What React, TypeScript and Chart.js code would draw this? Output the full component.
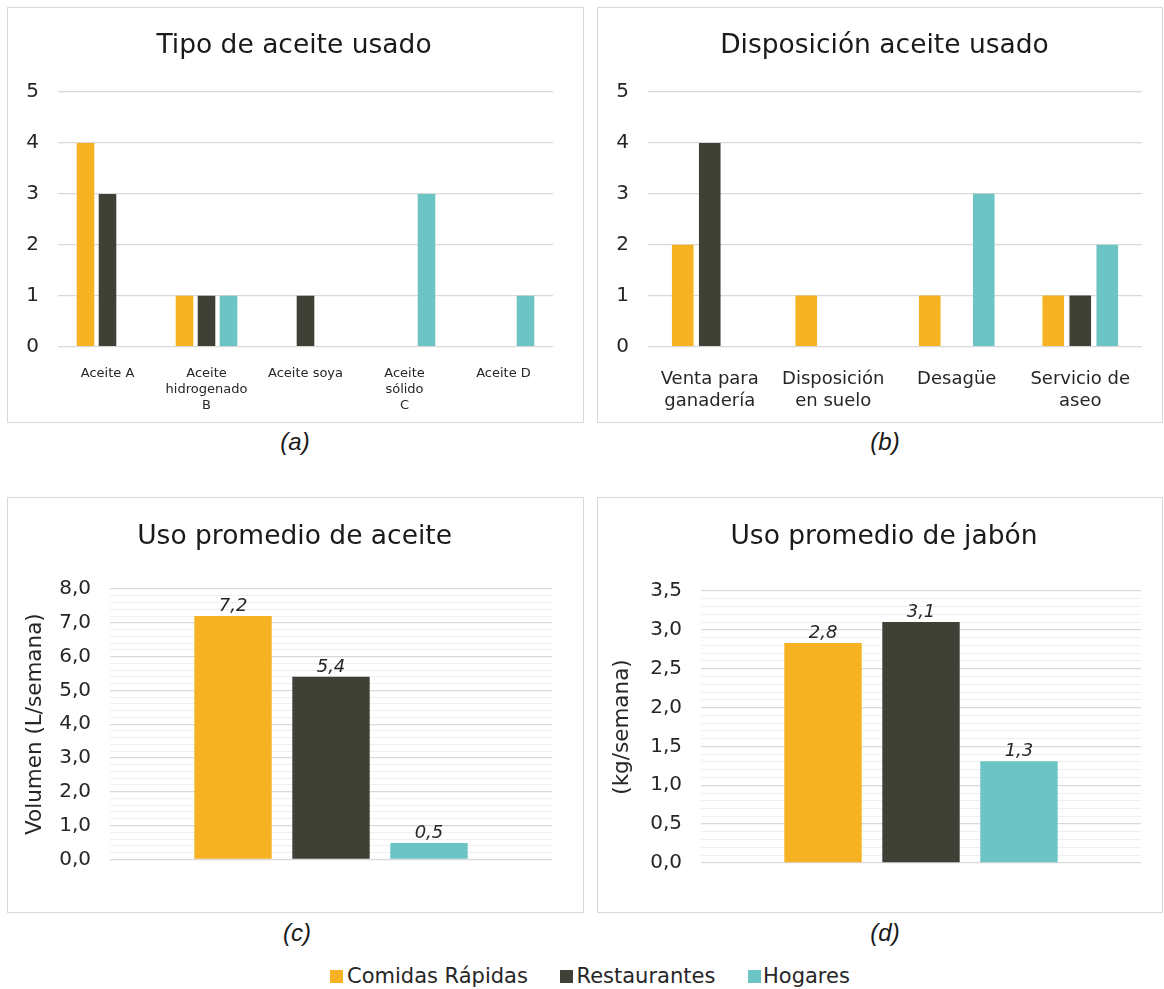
import React, { useEffect, useRef } from "react";
import { Chart, registerables } from "chart.js";

Chart.register(...registerables);

const FONT = "'DejaVu Sans', Verdana, sans-serif";
const TEXT = "#262626";
const GRID_MAJOR = "#d9d9d9";
const GRID_MINOR = "#efefef";

const SERIES = ["Comidas Rápidas", "Restaurantes", "Hogares"];
const COLORS = ["#F6B222", "#3F4136", "#6CC4C5"];

// (a) Tipo de aceite usado
const tipoCategories = [["Aceite A"], ["Aceite", "hidrogenado", "B"], ["Aceite soya"], ["Aceite", "sólido", "C"], ["Aceite D"]];
const tipoComidas = [4, 1, 0, 0, 0];
const tipoRestaurantes = [3, 1, 1, 0, 0];
const tipoHogares = [0, 1, 0, 3, 1];
const tipoTicks = { min: 0, max: 5, step: 1 };

// (b) Disposición aceite usado
const dispCategories = [["Venta para", "ganadería"], ["Disposición", "en suelo"], ["Desagüe"], ["Servicio de", "aseo"]];
const dispComidas = [2, 1, 1, 1];
const dispRestaurantes = [4, 0, 0, 1];
const dispHogares = [0, 0, 3, 2];
const dispTicks = { min: 0, max: 5, step: 1 };

// (c) Uso promedio de aceite
const aceiteCategory = [""];
const aceiteComidas = [7.2];
const aceiteRestaurantes = [5.4];
const aceiteHogares = [0.48];
const aceiteTicks = { min: 0, max: 8, step: 0.2, major: 1 };

// (d) Uso promedio de jabón
const jabonCategory = [""];
const jabonComidas = [2.83];
const jabonRestaurantes = [3.1];
const jabonHogares = [1.31];
const jabonTicks = { min: 0, max: 3.5, step: 0.1, major: 0.5 };

const fmt = (v: number) => v.toFixed(1).replace(".", ",");
const isMajor = (v: number, major: number) => Math.abs(v / major - Math.round(v / major)) < 1e-6;

const valueLabels = {
  id: "valueLabels",
  afterDatasetsDraw(chart: any) {
    const ctx = chart.ctx;
    ctx.save();
    ctx.font = `italic 18px ${FONT}`;
    ctx.fillStyle = TEXT;
    ctx.textAlign = "center";
    ctx.textBaseline = "alphabetic";
    chart.data.datasets.forEach((ds: any, i: number) => {
      const meta = chart.getDatasetMeta(i);
      meta.data.forEach((el: any, j: number) => {
        ctx.fillText(fmt(ds.data[j]), el.x, el.y - 5);
      });
    });
    ctx.restore();
  },
};

function makeDatasets(values: number[][], barPct: number, catPct: number) {
  return values.map((data, i) => ({
    label: SERIES[i],
    data,
    backgroundColor: COLORS[i],
    borderWidth: 0,
    barPercentage: barPct,
    categoryPercentage: catPct,
  }));
}

function countConfig(labels: any[], values: number[][], t: any, geo: any) {
  return {
    type: "bar",
    data: { labels, datasets: makeDatasets(values, geo.barPct, geo.catPct) },
    options: {
      responsive: false,
      animation: false,
      devicePixelRatio: 1,
      layout: { padding: { top: geo.top, right: geo.right, left: 0, bottom: 0 } },
      plugins: { legend: { display: false }, tooltip: { enabled: false }, title: { display: false } },
      scales: {
        x: {
          grid: { display: false },
          border: { display: false },
          ticks: {
            color: TEXT,
            font: { family: FONT, size: geo.xFont, lineHeight: geo.xLine },
            padding: geo.xPad,
            maxRotation: 0,
            autoSkip: false,
          },
          afterFit: (s: any) => { s.height = geo.xHeight; },
        },
        y: {
          min: t.min,
          max: t.max,
          grid: { color: GRID_MAJOR, drawTicks: false, lineWidth: 1.2 },
          border: { display: false },
          ticks: { stepSize: t.step, color: TEXT, font: { family: FONT, size: 20 }, padding: 19 },
          afterFit: (s: any) => { s.width = geo.yWidth; },
        },
      },
    },
  };
}

function avgConfig(labels: any[], values: number[][], t: any, geo: any) {
  return {
    type: "bar",
    data: { labels, datasets: makeDatasets(values, geo.barPct, geo.catPct) },
    plugins: [valueLabels],
    options: {
      responsive: false,
      animation: false,
      devicePixelRatio: 1,
      layout: { padding: { top: geo.top, right: geo.right, left: 0, bottom: geo.bottom } },
      plugins: { legend: { display: false }, tooltip: { enabled: false }, title: { display: false } },
      scales: {
        x: { display: false },
        y: {
          min: t.min,
          max: t.max,
          grid: {
            drawTicks: false,
            lineWidth: (c: any) => (isMajor(c.tick.value, t.major) ? 1.3 : 1),
            color: (c: any) => (isMajor(c.tick.value, t.major) ? GRID_MAJOR : GRID_MINOR),
          },
          border: { display: false },
          ticks: {
            stepSize: t.step,
            autoSkip: false,
            color: TEXT,
            font: { family: FONT, size: 20 },
            padding: 19,
            callback: (v: any) => (isMajor(Number(v), t.major) ? fmt(Number(v)) : ""),
          },
          title: {
            display: true,
            text: geo.yTitle,
            color: TEXT,
            font: { family: FONT, size: 21.5, lineHeight: 1.2 },
            padding: { top: geo.yTitlePad, bottom: 0 },
          },
          afterFit: (s: any) => { s.width = geo.yWidth; },
        },
      },
    },
  };
}

function ChartPanel({ box, config, title, titleX, titleTop }: any) {
  const ref = useRef<HTMLCanvasElement>(null);
  useEffect(() => {
    const chart = new Chart(ref.current as HTMLCanvasElement, config);
    return () => chart.destroy();
  }, []);
  return (
    <>
      <div
        style={{
          position: "absolute",
          left: box.left,
          top: box.top,
          width: box.w,
          height: box.h,
          boxSizing: "border-box",
          border: "1px solid #d9d9d9",
          background: "#fff",
        }}
      >
        <canvas ref={ref} width={box.w - 2} height={box.h - 2} style={{ display: "block" }} />
      </div>
      <div
        style={{
          position: "absolute",
          left: titleX - 300,
          width: 600,
          top: titleTop,
          textAlign: "center",
          fontFamily: FONT,
          fontSize: 26.5,
          lineHeight: "32px",
          color: "#1a1a1a",
          whiteSpace: "nowrap",
        }}
      >
        {title}
      </div>
    </>
  );
}

function Caption({ x, top, text }: any) {
  return (
    <div
      style={{
        position: "absolute",
        left: x - 50,
        width: 100,
        top,
        textAlign: "center",
        fontFamily: "'Liberation Sans', Arial, sans-serif",
        fontStyle: "italic",
        fontSize: 24,
        lineHeight: "28px",
        color: "#1a1a1a",
      }}
    >
      {text}
    </div>
  );
}

const legendPositions = [
  { sq: 330, tx: 347 },
  { sq: 560, tx: 576.5 },
  { sq: 748, tx: 763 },
];

export default function App() {
  const cfgA = countConfig(tipoCategories, [tipoComidas, tipoRestaurantes, tipoHogares], tipoTicks, {
    top: 84, right: 30, xHeight: 75.3, yWidth: 50, xFont: 13, xLine: 1.25, xPad: 10.5, barPct: 0.8, catPct: 0.667,
  });
  const cfgB = countConfig(dispCategories, [dispComidas, dispRestaurantes, dispHogares], dispTicks, {
    top: 84, right: 20, xHeight: 75.5, yWidth: 50, xFont: 18, xLine: 1.2, xPad: 14.4, barPct: 0.8, catPct: 0.656,
  });
  const cfgC = avgConfig(aceiteCategory, [aceiteComidas, aceiteRestaurantes, aceiteHogares], aceiteTicks, {
    top: 91, right: 31, bottom: 52.7, yWidth: 102, barPct: 0.79, catPct: 0.665, yTitle: "Volumen (L/semana)", yTitlePad: 14.8,
  });
  const cfgD = avgConfig(jabonCategory, [jabonComidas, jabonRestaurantes, jabonHogares], jabonTicks, {
    top: 93, right: 21, bottom: 49, yWidth: 103, barPct: 0.79, catPct: 0.668, yTitle: "(kg/semana)", yTitlePad: 11.8,
  });

  return (
    <div style={{ position: "absolute", left: 0, top: 0, width: 1164, height: 989, background: "#fff" }}>
      <ChartPanel box={{ left: 7, top: 7, w: 577, h: 416 }} config={cfgA} title="Tipo de aceite usado" titleX={294} titleTop={28} />
      <ChartPanel box={{ left: 597, top: 7, w: 566, h: 416 }} config={cfgB} title="Disposición aceite usado" titleX={884.5} titleTop={28} />
      <ChartPanel box={{ left: 7, top: 497, w: 577, h: 416 }} config={cfgC} title="Uso promedio de aceite" titleX={294.6} titleTop={519} />
      <ChartPanel box={{ left: 597, top: 497, w: 566, h: 416 }} config={cfgD} title="Uso promedio de jabón" titleX={884} titleTop={519} />
      <Caption x={295} top={428} text="(a)" />
      <Caption x={885} top={428} text="(b)" />
      <Caption x={297} top={919} text="(c)" />
      <Caption x={885} top={919} text="(d)" />
      {SERIES.map((name, i) => (
        <React.Fragment key={name}>
          <div
            style={{
              position: "absolute",
              left: legendPositions[i].sq,
              top: 970,
              width: 13,
              height: 13,
              background: COLORS[i],
            }}
          />
          <div
            style={{
              position: "absolute",
              left: legendPositions[i].tx,
              top: 964,
              fontFamily: FONT,
              fontSize: 21,
              lineHeight: "24px",
              color: TEXT,
              whiteSpace: "nowrap",
            }}
          >
            {name}
          </div>
        </React.Fragment>
      ))}
    </div>
  );
}
